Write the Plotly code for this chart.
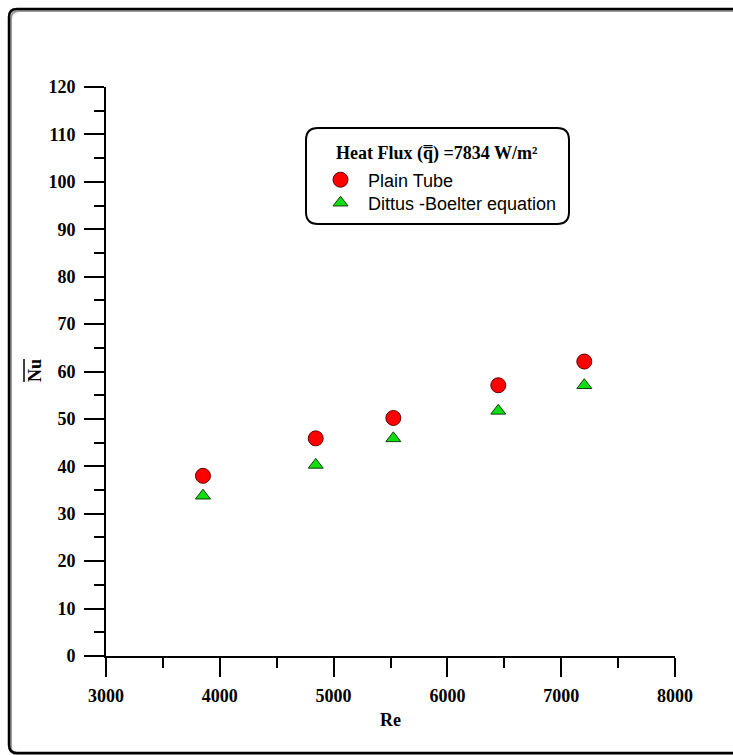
import plotly.graph_objects as go

# ---- data ----
re_values = [3852, 4843, 5525, 6447, 7203]
nu_plain = [38.0, 45.9, 50.2, 57.1, 62.1]
nu_dittus = [33.8, 40.3, 45.9, 51.7, 57.1]
x_ticks = [3000, 4000, 5000, 6000, 7000, 8000]
y_ticks = [0, 10, 20, 30, 40, 50, 60, 70, 80, 90, 100, 110, 120]

W, H = 733, 755
L, R, T, B = 106, 58, 87, 99
PW, PH = W - L - R, H - T - B

def px(x):
    return (x - L) / PW

def py(y):
    return (H - B - y) / PH

def rrect(x0, y0, x1, y1, r):
    # rounded rectangle path in paper coords from pixel coords
    X0, X1 = px(x0), px(x1)
    Y0, Y1 = py(y0), py(y1)  # Y0 top, Y1 bottom
    rx, ry = r / PW, r / PH
    return (f"M {X0+rx},{Y0} L {X1-rx},{Y0} Q {X1},{Y0} {X1},{Y0-ry} "
            f"L {X1},{Y1+ry} Q {X1},{Y1} {X1-rx},{Y1} L {X0+rx},{Y1} "
            f"Q {X0},{Y1} {X0},{Y1+ry} L {X0},{Y0-ry} Q {X0},{Y0} {X0+rx},{Y0} Z")

serif = "Times New Roman, Liberation Serif, serif"
sans = "Arial, Liberation Sans, sans-serif"

fig = go.Figure()
fig.add_trace(go.Scatter(
    x=re_values, y=nu_plain, mode="markers", name="Plain Tube",
    marker=dict(symbol="circle", size=15, color="#ff0000",
                line=dict(color="#600000", width=1)),
    legend="legend",
))
fig.add_trace(go.Scatter(
    x=re_values, y=nu_dittus, mode="markers", name="Dittus -Boelter equation",
    marker=dict(symbol="triangle-up", size=13, color="#11dd11",
                line=dict(color="#0a400a", width=1)),
    legend="legend2",
))

axis_common = dict(
    showline=True, linecolor="black", linewidth=2,
    ticks="outside", tickcolor="black", tickwidth=2,
    showgrid=False, zeroline=False, mirror=False,
    tickfont=dict(family=serif, size=18, color="black", weight="bold"),
)
fig.update_xaxes(range=[3000, 8000], tickvals=x_ticks, ticklen=19,
                 minor=dict(dtick=500, ticks="outside", ticklen=10,
                            tickwidth=2, tickcolor="black", showgrid=False),
                 ticklabelstandoff=3, **axis_common)
fig.update_yaxes(range=[0, 120], tickvals=y_ticks, ticklen=20,
                 minor=dict(dtick=5, ticks="outside", ticklen=10,
                            tickwidth=2, tickcolor="black", showgrid=False),
                 ticklabelstandoff=5, **axis_common)

shapes = [
    # outer frame shadow + frame
    dict(type="path", xref="paper", yref="paper", path=rrect(11, 11, 750, 755, 8),
         line=dict(color="#9a9a9a", width=2), layer="below"),
    dict(type="path", xref="paper", yref="paper", path=rrect(9, 9, 748, 753, 8),
         line=dict(color="black", width=2.5), layer="below"),
    # legend box
    dict(type="path", xref="paper", yref="paper", path=rrect(306, 128, 569, 224, 12),
         line=dict(color="black", width=2), fillcolor="white", layer="below"),
    # overline of the y-axis title (Nu bar)
    dict(type="line", xref="paper", yref="paper",
         x0=px(24), x1=px(24), y0=py(359), y1=py(382),
         line=dict(color="black", width=1.5)),
]

annotations = [
    dict(text="<b>Re</b>", x=0.5, y=py(720), xref="paper", yref="paper",
         showarrow=False, xanchor="center", yanchor="middle",
         font=dict(family=serif, size=18, color="black")),
    dict(text="<b>Nu</b>", x=px(35), y=py(371), xref="paper", yref="paper",
         showarrow=False, xanchor="center", yanchor="middle", textangle=-90,
         font=dict(family=serif, size=18, color="black")),
    dict(text="<b>Heat Flux (q\u033f) =7834 W/m\u00b2</b>", x=px(334), y=py(153),
         xref="paper", yref="paper", showarrow=False,
         xanchor="left", yanchor="middle",
         font=dict(family=serif, size=18, color="black")),
]

leg_common = dict(xanchor="left", yanchor="middle",
                  bgcolor="rgba(0,0,0,0)", borderwidth=0,
                  font=dict(family=sans, size=18, color="black"),
                  itemwidth=45)

fig.update_layout(
    width=W, height=H,
    margin=dict(l=L, r=R, t=T, b=B, pad=0),
    paper_bgcolor="white", plot_bgcolor="white",
    showlegend=True,
    legend=dict(x=px(313), y=py(180), **leg_common),
    legend2=dict(x=px(313), y=py(203), **leg_common),
    shapes=shapes,
    annotations=annotations,
)

fig.write_html("out.html")
